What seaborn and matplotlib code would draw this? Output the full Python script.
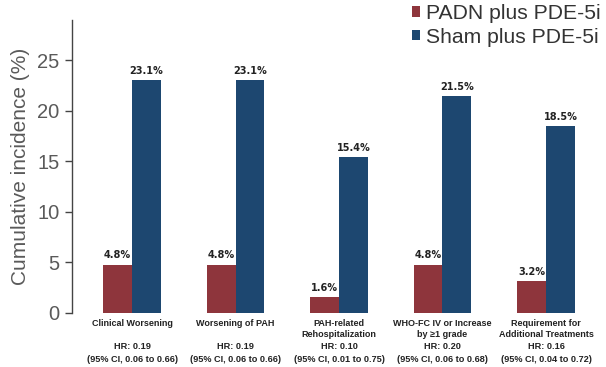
import matplotlib
matplotlib.use("Agg")
import matplotlib.pyplot as plt
import seaborn as sns
import pandas as pd
from matplotlib.patches import Patch

categories = ["Clinical Worsening", "Worsening of PAH", "PAH-related\nRehospitalization",
              "WHO-FC IV or Increase\nby \u22651 grade", "Requirement for\nAdditional Treatments"]
padn = [4.8, 4.8, 1.6, 4.8, 3.2]
sham = [23.1, 23.1, 15.4, 21.5, 18.5]
hr_labels = ["HR: 0.19", "HR: 0.19", "HR: 0.10", "HR: 0.20", "HR: 0.16"]
ci_labels = ["(95% CI, 0.06 to 0.66)", "(95% CI, 0.06 to 0.66)", "(95% CI, 0.01 to 0.75)",
             "(95% CI, 0.06 to 0.68)", "(95% CI, 0.04 to 0.72)"]
series = ["PADN plus PDE-5i", "Sham plus PDE-5i"]
yticks = [0, 5, 10, 15, 20, 25]

df = pd.DataFrame({
    "category": categories * 2,
    "value": padn + sham,
    "group": [series[0]] * len(categories) + [series[1]] * len(categories),
})

sns.set_style("white")
plt.rcParams['font.family'] = ['Liberation Sans', 'DejaVu Sans']

red = "#8E353C"
blue = "#1D4770"

fig = plt.figure(figsize=(6.06, 3.67), dpi=100)
ax = fig.add_axes([72/606, 1 - 313/367, 1 - 72/606, (313 - 20)/367])

sns.barplot(data=df, x="category", y="value", hue="group", palette=[red, blue],
            width=0.56, gap=0, ax=ax, legend=False, saturation=1, linewidth=0)

ax.set_xlim(-0.58, 4.58)
ax.set_ylim(0, 29)
ax.set_yticks(yticks)
ax.set_yticklabels([str(t) for t in yticks], fontsize=14.5, color="#5a5a5a")
ax.set_ylabel("Cumulative incidence (%)", fontsize=15, color="#5a5a5a", labelpad=5)
ax.set_xlabel("")
for s in ["top", "right", "bottom"]:
    ax.spines[s].set_visible(False)
ax.spines["left"].set_color("#444444")
ax.spines["left"].set_linewidth(1.0)
ax.tick_params(axis="y", direction="out", length=5, width=1, color="#444444", left=True, pad=4)
ax.tick_params(axis="x", length=0, pad=4)
ax.set_xticks(range(len(categories)))
ax.set_xticklabels(categories, fontsize=6.5, fontweight="bold", color="#222222", linespacing=1.3)

for cont in ax.containers:
    for bar in cont:
        h = bar.get_height()
        ax.text(bar.get_x() + bar.get_width()/2, h + 0.4, f"{h:.1f}%",
                ha="center", va="bottom", fontsize=7, fontweight="bold",
                family=["Liberation Sans Narrow", "DejaVu Sans"], color="#222222")

xt = ax.get_xaxis_transform()
for i in range(len(categories)):
    ax.text(i, -0.116, hr_labels[i], transform=xt, ha="center", va="center",
            fontsize=6.6, fontweight="bold", color="#222222")
    ax.text(i, -0.157, ci_labels[i], transform=xt, ha="center", va="center",
            fontsize=6.6, fontweight="bold", color="#222222")

handles = [Patch(facecolor=red, edgecolor="none"), Patch(facecolor=blue, edgecolor="none")]
fig.legend(handles, series, loc="upper left", bbox_to_anchor=(412/606, 1 - 4/367), frameon=False,
           fontsize=15.2, handlelength=0.38, handleheight=0.38, handletextpad=0.3,
           labelspacing=0.22, borderpad=0, borderaxespad=0, labelcolor="#333333")

fig.savefig("out.png", dpi=100)
